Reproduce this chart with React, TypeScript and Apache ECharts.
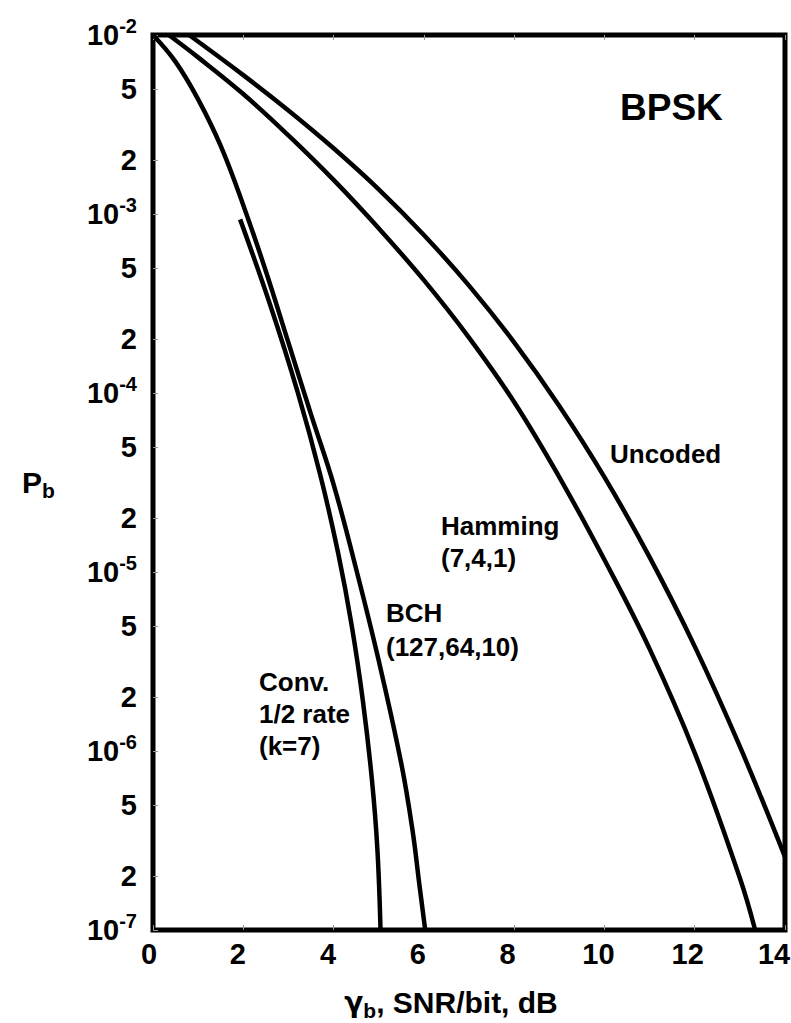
import React, { useEffect, useRef } from "react";
import * as echarts from "echarts";

const FONT = "'Liberation Sans', Arial, Helvetica, sans-serif";

// x axis ticks (dB)
const xTickValues = [0, 2, 4, 6, 8, 10, 12, 14];
// y axis ticks (bit error probability)
const yTickValues = [
  1e-2, 5e-3, 2e-3, 1e-3, 5e-4, 2e-4, 1e-4, 5e-5, 2e-5, 1e-5, 5e-6, 2e-6, 1e-6,
  5e-7, 2e-7, 1e-7,
];

// Uncoded
const uncodedX = [0.8, 2, 3, 4, 5, 6, 7, 8, 9, 10, 11, 12, 13, 14];
const uncodedP = [
  1.0e-2, 5.97e-3, 3.79e-3, 2.33e-3, 1.374e-3, 7.64e-4, 3.98e-4, 1.92e-4, 8.47e-5,
  3.39e-5, 1.21e-5, 3.84e-6, 1.06e-6, 2.56e-7,
];

// Hamming (7,4,1)
const hammingX = [0.35, 1, 2, 3, 4, 5, 6, 7, 8, 9, 10, 11, 12, 13, 13.33];
const hammingP = [
  1.0e-2, 7.5e-3, 4.68e-3, 2.75e-3, 1.55e-3, 8.32e-4, 4.27e-4, 2.04e-4, 8.91e-5,
  3.39e-5, 1.17e-5, 3.72e-6, 9.77e-7, 1.95e-7, 1.02e-7,
];

// BCH (127,64,10)
const bchX = [0, 0.5, 1, 1.5, 2, 2.5, 3, 3.5, 4, 4.5, 5, 5.5, 5.75, 5.9, 6.03];
const bchP = [
  1.0e-2, 7.08e-3, 4.37e-3, 2.4e-3, 1.12e-3, 4.79e-4, 1.91e-4, 7.59e-5, 3.09e-5,
  1.04e-5, 3.2e-6, 8.51e-7, 3.59e-7, 1.8e-7, 1.0e-7,
];

// Convolutional 1/2 rate (k=7)
const convX = [1.93, 2.6, 3.2, 3.7, 4.1, 4.4, 4.65, 4.85, 4.97, 5.04];
const convP = [9.33e-4, 3.08e-4, 1.02e-4, 3.53e-5, 1.28e-5, 5.05e-6, 1.9e-6, 6.89e-7, 2.84e-7, 1.0e-7];

const pairs = (xs: number[], ps: number[]) => xs.map((x, i) => [x, ps[i]]);

const lineSeries = (name: string, xs: number[], ps: number[]) => ({
  name,
  type: "line",
  xAxisIndex: 0,
  yAxisIndex: 0,
  data: pairs(xs, ps),
  symbol: "none",
  showSymbol: false,
  smooth: 0.4,
  silent: true,
  lineStyle: { color: "#000", width: 4.5 },
  z: 3,
});

const labelText = (x: number, y: number, text: string, lineHeight = 32) => ({
  type: "text",
  x,
  y,
  z: 10,
  style: {
    text,
    fill: "#000",
    fontFamily: FONT,
    fontSize: 26,
    fontWeight: "bold",
    lineHeight,
    align: "left",
    verticalAlign: "top",
  },
});

// per-label leftward nudge (px) of the x tick labels, as in the original
const xLabelShift = [4, 5.5, 5.5, 6, 6.5, 6, 7, 11];
const xLabelRich: Record<string, any> = {};
xTickValues.forEach((v, i) => {
  xLabelRich["x" + v] = {
    fontFamily: FONT,
    fontSize: 29,
    fontWeight: "bold",
    color: "#000",
    padding: [0, Math.round(xLabelShift[i] * 2), 0, 0],
  };
});

export default function App() {
  const ref = useRef<HTMLDivElement>(null);

  useEffect(() => {
    document.body.style.margin = "0";
    if (!ref.current) return;
    const chart = echarts.init(ref.current, null, { renderer: "svg" });

    const yLog = yTickValues.map((v) => Math.log10(v));
    const tickStyle = { color: "#999", width: 1 };

    const option: any = {
      animation: false,
      backgroundColor: "#fff",
      grid: {
        left: 153,
        right: 6,
        top: 35,
        bottom: 93,
        show: true,
        borderColor: "#000",
        borderWidth: 5,
        outerBoundsMode: "none",
        containLabel: false,
      },
      xAxis: [
        {
          type: "value",
          min: 0,
          max: 14,
          interval: 2,
          position: "bottom",
          axisLine: { show: false },
          splitLine: { show: false },
          axisTick: { show: true, inside: true, length: 5, lineStyle: tickStyle },
          axisLabel: {
            show: true,
            margin: 9,
            color: "#000",
            fontFamily: FONT,
            fontSize: 29,
            fontWeight: "bold",
            customValues: xTickValues,
            formatter: (v: number) => `{x${Math.round(v)}|${Math.round(v)}}`,
            rich: xLabelRich,
          },
        },
        {
          type: "value",
          min: 0,
          max: 14,
          interval: 2,
          position: "top",
          axisLine: { show: false },
          splitLine: { show: false },
          axisTick: { show: true, inside: true, length: 5, lineStyle: tickStyle },
          axisLabel: { show: false },
        },
      ],
      yAxis: [
        {
          type: "log",
          logBase: 10,
          min: 1e-7,
          max: 1e-2,
          position: "left",
          axisLine: { show: false },
          axisTick: { show: false },
          axisLabel: { show: false },
          splitLine: { show: false },
          minorTick: { show: false },
        },
        {
          type: "value",
          min: -7,
          max: -2,
          position: "left",
          axisLine: { show: false },
          splitLine: { show: false },
          axisTick: {
            show: true,
            inside: true,
            length: 5,
            lineStyle: tickStyle,
            customValues: yLog,
          },
          axisLabel: {
            show: true,
            margin: 16,
            color: "#000",
            fontFamily: FONT,
            fontSize: 29,
            fontWeight: "bold",
            customValues: yLog,
            formatter: (v: number) => {
              const e = Math.round(v);
              if (Math.abs(v - e) < 1e-6) return `{b|10}{s|${e}}`;
              const m = Math.round(Math.pow(10, v - Math.floor(v)));
              return String(m);
            },
            rich: {
              b: { fontFamily: FONT, fontSize: 29, fontWeight: "bold", lineHeight: 29, color: "#000" },
              s: {
                fontFamily: FONT,
                fontSize: 20,
                fontWeight: "bold",
                lineHeight: 20,
                color: "#000",
                padding: [0, 0, 18, 0],
              },
            },
          },
        },
      ],
      series: [
        lineSeries("Uncoded", uncodedX, uncodedP),
        lineSeries("Hamming (7,4,1)", hammingX, hammingP),
        lineSeries("BCH (127,64,10)", bchX, bchP),
        lineSeries("Conv. 1/2 rate (k=7)", convX, convP),
      ],
      graphic: [
        {
          type: "text",
          x: 620,
          y: 107,
          z: 10,
          style: {
            text: "BPSK",
            fill: "#000",
            fontFamily: FONT,
            fontSize: 37,
            fontWeight: "bold",
            align: "left",
            verticalAlign: "middle",
          },
        },
        labelText(610, 454 - 16, "Uncoded"),
        labelText(441, 526 - 16, "Hamming\n(7,4,1)"),
        labelText(386, 613 - 17, "BCH\n(127,64,10)", 34),
        labelText(259, 682 - 16, "Conv.\n1/2 rate\n(k=7)"),
        {
          type: "text",
          x: 22,
          y: 482,
          z: 10,
          style: {
            text: "{p|P}{s|b}",
            align: "left",
            verticalAlign: "middle",
            rich: {
              p: { fontFamily: FONT, fontSize: 30, fontWeight: "bold", lineHeight: 30, fill: "#000", color: "#000" },
              s: {
                fontFamily: FONT,
                fontSize: 21,
                fontWeight: "bold",
                lineHeight: 21,
                fill: "#000",
                color: "#000",
                padding: [16, 0, 0, 0],
              },
            },
          },
        },
        {
          type: "text",
          x: 451,
          y: 1002,
          z: 10,
          style: {
            text: "{g|γ}{s|b}{t|, SNR/bit, dB}",
            align: "center",
            verticalAlign: "middle",
            rich: {
              g: {
                fontFamily: "'DejaVu Sans', sans-serif",
                fontSize: 28,
                fontWeight: "bold",
                lineHeight: 30,
                fill: "#000",
                color: "#000",
              },
              s: {
                fontFamily: FONT,
                fontSize: 21,
                fontWeight: "bold",
                lineHeight: 21,
                fill: "#000",
                color: "#000",
                padding: [16, 0, 0, 0],
              },
              t: { fontFamily: FONT, fontSize: 30, fontWeight: "bold", lineHeight: 30, fill: "#000", color: "#000" },
            },
          },
        },
      ],
    };

    chart.setOption(option);
    return () => chart.dispose();
  }, []);

  return (
    <div
      ref={ref}
      style={{ position: "absolute", left: 0, top: 0, width: 791, height: 1023 }}
    />
  );
}
